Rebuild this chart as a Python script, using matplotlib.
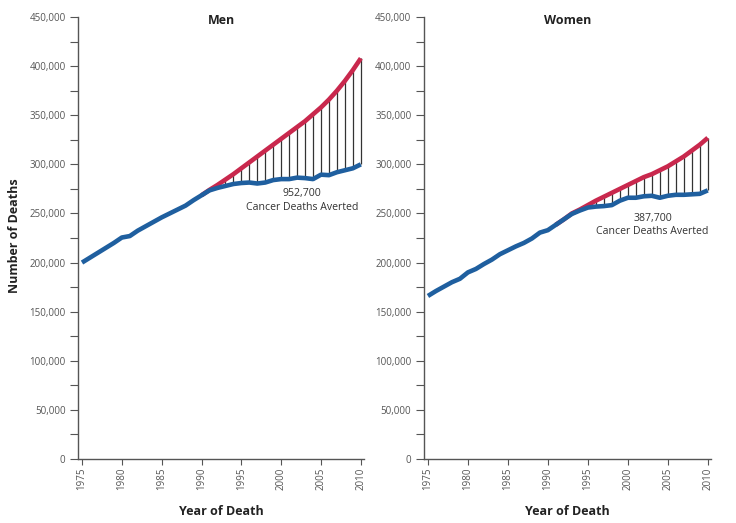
import matplotlib.pyplot as plt
import numpy as np
from matplotlib.ticker import MultipleLocator, FuncFormatter

plt.rcParams['font.family'] = ['Open Sans', 'DejaVu Sans']

# data (thousands of deaths)
years = np.arange(1975, 2011)

men_actual = [200, 205, 210, 215, 220, 225.5, 227, 232.5, 237, 241.5,
              246, 250, 254, 258, 263.5, 268.5, 273.5, 276, 278, 280,
              281, 281.5, 280.5, 281.5, 284, 285, 285, 286.5, 286, 285,
              289.5, 289, 292, 294, 296, 300]
men_expected_years = np.arange(1990, 2011)
men_expected = [268.5, 274, 279, 284.5, 290, 296, 302, 308, 314, 320,
                326, 332, 338, 344, 351, 358, 366, 375, 385, 396, 408]

women_actual = [166, 171, 175.5, 180, 183.5, 190, 193.5, 198.5, 203, 208.5,
                212.5, 216.5, 220, 224.5, 230.5, 233, 238.5, 244, 249.5, 253,
                256, 257, 257.5, 258.5, 263, 266, 266, 267.5, 268, 266,
                268, 269, 269, 269.5, 270, 273.5]
women_expected_years = np.arange(1991, 2011)
women_expected = [238.5, 244, 250, 254, 258.5, 263, 267, 271, 275, 279,
                  283, 287, 290, 294, 298, 303, 308, 314, 320, 327]

panels = [
    ('Men', men_actual, men_expected_years, men_expected, '952,700', 2002.6, 263),
    ('Women', women_actual, women_expected_years, women_expected, '387,700', 2003.1, 238),
]

blue = '#1f5f9f'
red = '#c9284d'
grey = '#555555'

fig = plt.figure(figsize=(7.36, 5.23), dpi=100)
positions = [[0.106, 0.1224, 0.3886, 0.845], [0.576, 0.1224, 0.390, 0.845]]

for pos, (name, actual, ey, expected, total, tx, ty) in zip(positions, panels):
    ax = fig.add_axes(pos)
    actual = np.array(actual) * 1000
    expected = np.array(expected) * 1000
    act_sub = actual[ey - 1975]
    ax.vlines(ey, act_sub, expected, color='#333333', linewidth=0.9, zorder=1)
    ax.plot(ey, expected, color=red, linewidth=3.3, solid_capstyle='butt', zorder=2)
    ax.plot(years, actual, color=blue, linewidth=3.3, solid_capstyle='butt', zorder=3)

    ax.set_xlim(1974.5, 2010.4)
    ax.set_ylim(0, 450000)
    ax.set_xticks(np.arange(1975, 2011, 5))
    ax.yaxis.set_major_locator(MultipleLocator(50000))
    ax.yaxis.set_minor_locator(MultipleLocator(25000))
    ax.yaxis.set_major_formatter(FuncFormatter(lambda v, p: f'{int(v):,}'))
    ax.tick_params(axis='x', labelrotation=90, labelsize=7, colors=grey,
                   length=4, width=0.8, pad=2)
    ax.tick_params(axis='y', which='both', labelsize=7, colors=grey,
                   length=6, width=0.8, pad=3)
    for s in ['top', 'right']:
        ax.spines[s].set_visible(False)
    for s in ['left', 'bottom']:
        ax.spines[s].set_color(grey)
        ax.spines[s].set_linewidth(1)

    ax.text(0.5, 0.993, name, transform=ax.transAxes, ha='center', va='center',
            fontsize=9, fontweight='bold', color='#222222')
    ax.text(tx, ty * 1000, total + '\nCancer Deaths Averted', ha='center', va='center',
            fontsize=7.6, color='#333333', linespacing=1.3)
    ax.set_xlabel('Year of Death', fontsize=9, fontweight='bold', color='#222222',
                  labelpad=11)

fig.text(0.02, 0.55, 'Number of Deaths', rotation=90, ha='center', va='center',
         fontsize=9, fontweight='bold', color='#222222')

fig.savefig('out.png', dpi=100)
